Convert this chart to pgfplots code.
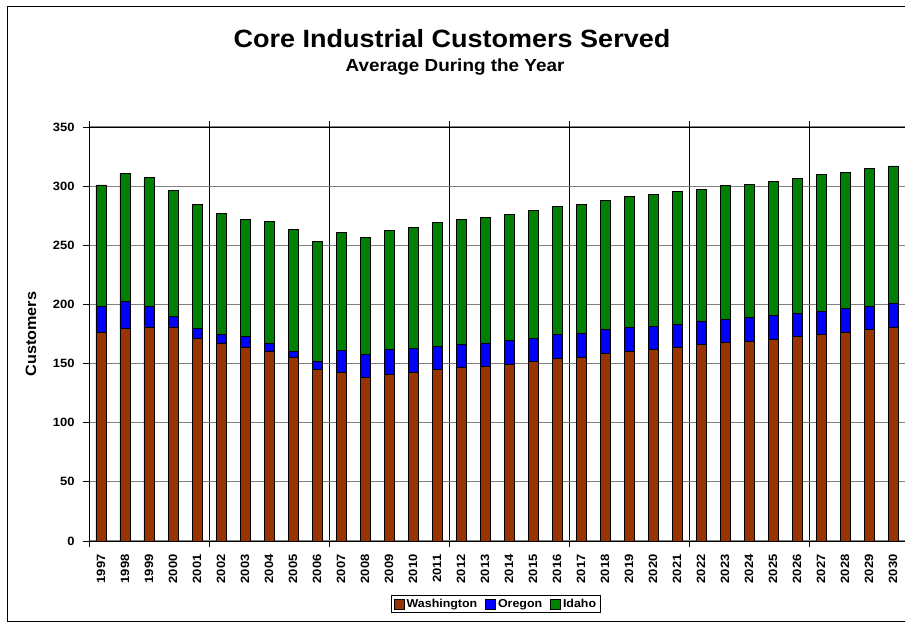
\documentclass[border=0pt]{standalone}
\usepackage{fontspec}
\setmainfont[FakeStretch=1.08]{Liberation Sans}
\usepackage{pgfplots}
\pgfplotsset{compat=1.18}
\definecolor{wa}{HTML}{993300}
\definecolor{orc}{HTML}{0000FF}
\definecolor{idc}{HTML}{008000}
\definecolor{gridgray}{HTML}{808080}
\pgfplotstableread{
x wa or id
0 176 22 103
1 180 22.5 108
2 181 17 109
3 181 8.5 106.5
4 171.5 8 104.8
5 167 7.6 102
6 164 8.7 99.5
7 160 7.3 103
8 154.8 5.8 103
9 145 6.7 101.3
10 142.7 18.5 99.8
11 138.2 19.5 99.3
12 140.7 21.1 101.1
13 142.7 19.8 102.9
14 144.7 19.9 104.7
15 146.6 19.8 105.2
16 147.5 19.9 106.2
17 149.6 19.7 107.1
18 151.6 20 107.9
19 154.7 19.9 108
20 155.5 20 109.1
21 158.6 20 109
22 160.6 20 111
23 161.7 20 111
24 163.7 19.7 112.1
25 165.9 19.7 111.9
26 167.6 20 113
27 168.7 20 112.7
28 170.7 20 113.5
29 172.6 19.8 114.3
30 174.6 19.7 115.3
31 176.6 19.7 115.5
32 178.6 19.9 116.1
33 180.6 19.9 116.6
}\datatable
\begin{document}
\begin{tikzpicture}[x=1pt,y=1pt]
\draw[black, line width=1pt] (-81,-80) rectangle (820,534);
\begin{axis}[
  at={(0,0)}, anchor=south west, scale only axis,
  width=816pt, height=414pt,
  ybar stacked, bar width=10pt,
  xmin=-0.5, xmax=33.5, ymin=0, ymax=350,
  xtick={0,...,33},
  xticklabel={\pgfmathtruncatemacro\yr{\tick+1997}\yr},
  x tick label style={rotate=90, anchor=east, font=\bfseries\fontsize{12}{12}\selectfont},
  xticklabel shift=4pt,
  major x tick style={draw=none},
  minor xtick={-0.5,4.5,9.5,14.5,19.5,24.5,29.5},
  xminorgrids, minor x grid style={black, line width=0.7pt},
  minor x tick style={black, line width=0.7pt},
  ytick={0,50,...,350},
  ymajorgrids, major y grid style={gridgray, line width=1.2pt},
  y tick label style={font=\bfseries\fontsize{12}{12}\selectfont},
  yticklabel shift=5pt,
  /pgf/number format/assume math mode=true,
  tick align=outside, major tick length=6pt, minor tick length=6pt,
  y tick style={black, line width=0.8pt},
  axis line style={black, line width=0.8pt},
  ylabel={Customers},
  every axis y label/.style={at={(axis description cs:-0.071,0.5)}, rotate=90, anchor=center, font=\bfseries\fontsize{15}{15}\selectfont},
  legend style={at={(axis description cs:0.4988,-0.152)}, anchor=center, draw=black, line width=1pt, legend columns=3, font=\bfseries\fontsize{11.5}{11.5}\selectfont, inner sep=2pt, /tikz/every even column/.append style={column sep=6pt}},
  legend image code/.code={\draw[#1, line width=0.8pt] (0pt,-5pt) rectangle (10pt,5pt);},
  clip=false,
]
\addplot[fill=wa, draw=black, line width=0.8pt] table[x=x, y=wa] {\datatable};
\addplot[fill=orc, draw=black, line width=0.8pt] table[x=x, y=or] {\datatable};
\addplot[fill=idc, draw=black, line width=0.8pt] table[x=x, y=id] {\datatable};
\legend{Washington, Oregon, Idaho}
\end{axis}
\node[font=\bfseries\fontsize{25}{25}\selectfont] at (363,502) {Core Industrial Customers Served};
\node[font=\bfseries\fontsize{17.5}{17.5}\selectfont] at (366,474) {Average During the Year};
\pgfresetboundingbox
\path[use as bounding box] (-89,-83) rectangle (816,541);
\end{tikzpicture}
\end{document}
